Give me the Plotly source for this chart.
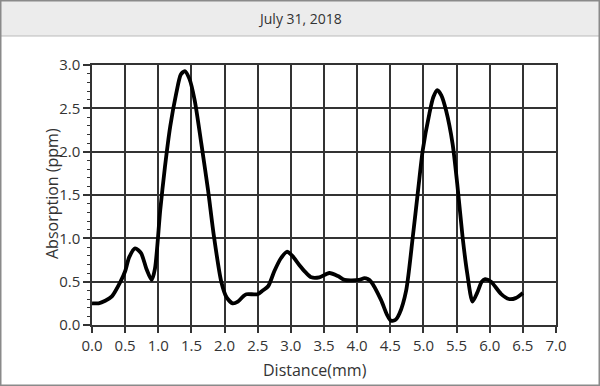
import plotly.graph_objects as go

distance_mm = [0.00, 0.10, 0.20, 0.30, 0.43, 0.50, 0.56, 0.65, 0.74, 0.82, 0.90, 0.95,
               1.03, 1.10, 1.18, 1.27, 1.34, 1.40, 1.47, 1.55, 1.65, 1.75, 1.84, 1.95,
               2.03, 2.12, 2.20, 2.28, 2.33, 2.50, 2.58, 2.66, 2.75, 2.85, 2.94, 3.02,
               3.13, 3.22, 3.31, 3.43, 3.58, 3.71, 3.81, 4.03, 4.11, 4.16, 4.21, 4.36,
               4.45, 4.51, 4.58, 4.64, 4.74, 4.84, 4.92, 4.99, 5.09, 5.15, 5.21, 5.27,
               5.34, 5.44, 5.51, 5.59, 5.66, 5.74, 5.81, 5.88, 5.93, 6.02, 6.17, 6.29,
               6.39, 6.50]
absorption_ppm = [0.25, 0.25, 0.28, 0.33, 0.50, 0.62, 0.78, 0.885, 0.83, 0.65, 0.52, 0.65,
                  1.33, 1.82, 2.29, 2.67, 2.89, 2.93, 2.84, 2.59, 2.09, 1.56, 1.02, 0.50,
                  0.32, 0.25, 0.27, 0.33, 0.355, 0.355, 0.40, 0.45, 0.62, 0.77, 0.845, 0.80,
                  0.69, 0.61, 0.55, 0.55, 0.60, 0.565, 0.52, 0.52, 0.54, 0.53, 0.50, 0.29,
                  0.12, 0.05, 0.06, 0.135, 0.40, 1.02, 1.56, 2.02, 2.44, 2.63, 2.71, 2.65,
                  2.48, 2.09, 1.63, 1.02, 0.60, 0.27, 0.37, 0.50, 0.53, 0.50, 0.36, 0.30,
                  0.31, 0.37]

title_text = "July 31, 2018"
x_title = "Distance(mm)"
y_title = "Absorption (ppm)"

W, H = 600, 386
L, R, T, B = 92, 44, 65, 61
PW, PH = W - L - R, H - T - B


def px(xp):
    return (xp - L) / PW


def py(yp):
    return (H - B - yp) / PH


fig = go.Figure()
fig.add_trace(go.Scatter(
    x=distance_mm, y=absorption_ppm, mode="lines",
    line=dict(color="#000000", width=3.8, shape="spline", smoothing=0.7),
    showlegend=False, hoverinfo="skip"))

grid = "#333333"
fig.update_layout(
    width=W, height=H,
    margin=dict(l=L, r=R, t=T, b=B, pad=0),
    paper_bgcolor="white", plot_bgcolor="white",
    font=dict(family="Open Sans", color="#333333", size=14),
    xaxis=dict(range=[0, 7], dtick=0.5, tick0=0, tickformat=".1f",
               showgrid=True, gridcolor=grid, gridwidth=1.5,
               showline=True, linecolor=grid, linewidth=1.5, mirror=True,
               ticks="outside", ticklen=6, tickcolor=grid, tickwidth=1.5,
               tickfont=dict(size=15), zeroline=False),
    yaxis=dict(range=[0, 3], dtick=0.5, tick0=0, tickformat=".1f",
               showgrid=True, gridcolor=grid, gridwidth=1.5,
               showline=True, linecolor=grid, linewidth=1.5, mirror=True,
               ticks="outside", ticklen=7, tickcolor=grid, tickwidth=1.5,
               tickfont=dict(size=15), zeroline=False,
               minor=dict(dtick=0.1, ticks="outside", ticklen=3, tickcolor=grid,
                          tickwidth=1, showgrid=False)),
    shapes=[
        dict(type="rect", xref="paper", yref="paper", layer="below",
             x0=px(0), x1=px(W), y0=py(36), y1=py(0),
             fillcolor="#ececec", line=dict(width=0)),
        dict(type="line", xref="paper", yref="paper",
             x0=px(0), x1=px(W), y0=py(36), y1=py(36),
             line=dict(color="#bbbbbb", width=1)),
        dict(type="rect", xref="paper", yref="paper",
             x0=px(0.75), x1=px(W - 0.75), y0=py(H - 0.75), y1=py(0.75),
             line=dict(color="#8a8a8a", width=1.5)),
    ],
    annotations=[
        dict(text=title_text, xref="paper", yref="paper", x=px(W / 2), y=py(19),
             xanchor="center", yanchor="middle", showarrow=False,
             font=dict(size=14, color="#333333")),
        dict(text=x_title, xref="paper", yref="paper", x=px(315), y=py(370),
             xanchor="center", yanchor="middle", showarrow=False,
             font=dict(size=16, color="#333333")),
        dict(text=y_title, xref="paper", yref="paper", x=px(52), y=py(194),
             xanchor="center", yanchor="middle", showarrow=False, textangle=-90,
             font=dict(size=16, color="#333333")),
    ],
)

fig.write_html("out.html", config={"displayModeBar": False},
               post_script="document.body.style.margin='0';document.body.style.overflow='hidden';")
